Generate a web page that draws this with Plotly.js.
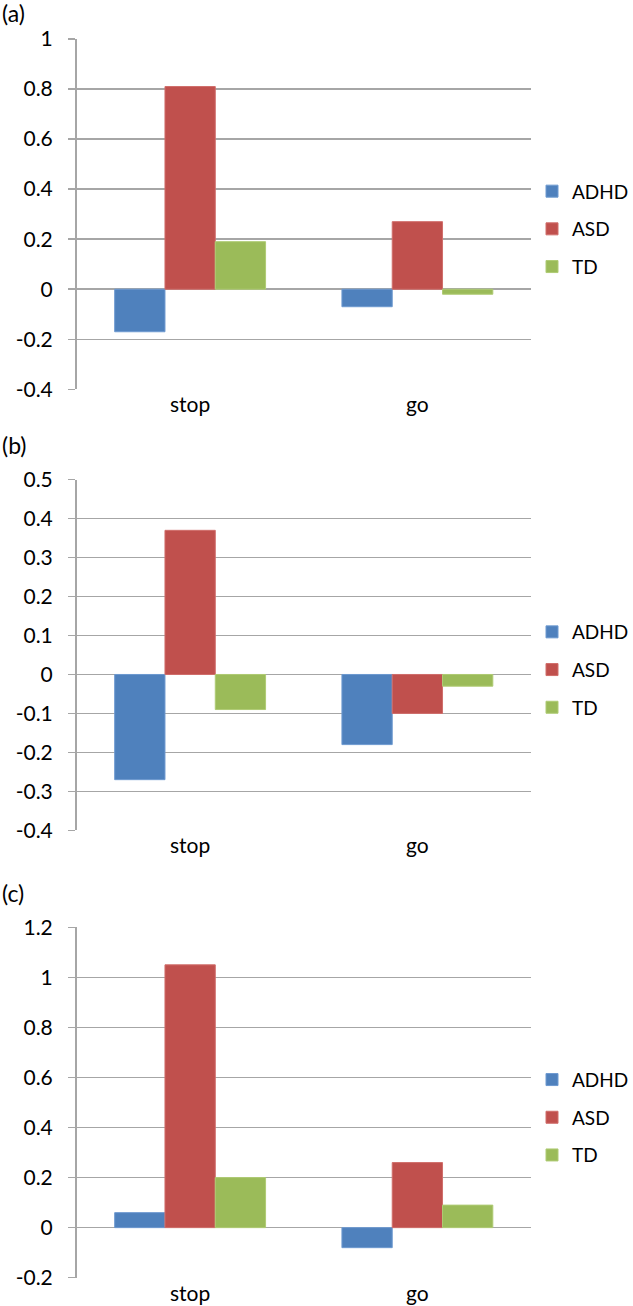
<!DOCTYPE html>
<html>
<head>
<meta charset="utf-8">
<script src="https://cdn.plot.ly/plotly-3.0.1.min.js"></script>
<style>html,body{margin:0;padding:0;background:#fff;overflow:hidden;width:633px;height:1306px;}#chart{width:633px;height:1306px;overflow:hidden;}</style>
</head>
<body>
<div id="chart"></div>
<script>
// ---- data ----
const categories = ["stop", "go"];
const seriesNames = ["ADHD", "ASD", "TD"];
const panelLabels = ["(a)", "(b)", "(c)"];

const a_ADHD = [-0.17, -0.07];
const a_ASD  = [0.81, 0.27];
const a_TD   = [0.19, -0.02];

const b_ADHD = [-0.27, -0.18];
const b_ASD  = [0.37, -0.10];
const b_TD   = [-0.09, -0.03];

const c_ADHD = [0.06, -0.08];
const c_ASD  = [1.05, 0.26];
const c_TD   = [0.20, 0.09];

const a_ticks = [-0.4, -0.2, 0, 0.2, 0.4, 0.6, 0.8, 1];
const b_ticks = [-0.4, -0.3, -0.2, -0.1, 0, 0.1, 0.2, 0.3, 0.4, 0.5];
const c_ticks = [-0.2, 0, 0.2, 0.4, 0.6, 0.8, 1, 1.2];

// ---- styling ----
const W = 633, H = 1306;
const colors = ["#4F81BD", "#C0504D", "#9BBB59"];
const edges  = ["#6E9AD0", "#D06E6B", "#AFCB74"];
const grid = "#A6A6A6";
const FONT = "Lato, 'Open Sans', sans-serif";
const fs = 21;
const py = p => 1 - p / H;
const px = p => p / W;

const panels = [
  {series: [a_ADHD, a_ASD, a_TD], ticks: a_ticks, top: 39, bottom: 389.3, legendMid: 229.3, labelY: 13},
  {series: [b_ADHD, b_ASD, b_TD], ticks: b_ticks, top: 479.7, bottom: 830.3, legendMid: 670, labelY: 445},
  {series: [c_ADHD, c_ASD, c_TD], ticks: c_ticks, top: 927.3, bottom: 1277.7, legendMid: 1117.7, labelY: 893}
];

const xDom = [px(76.5), px(531)];
const boundaries = categories.map((c, i) => i - 0.5).concat([categories.length - 0.5]);

const traces = [];
const layout = {
  width: W, height: H,
  margin: {l: 0, r: 0, t: 0, b: 0, pad: 0, autoexpand: false},
  paper_bgcolor: "#fff", plot_bgcolor: "#fff",
  barmode: "group", bargap: 0.336, bargroupgap: 0,
  font: {family: FONT, size: fs, color: "#000"},
  showlegend: true,
  annotations: [],
  hovermode: false
};

panels.forEach((p, k) => {
  const n = k + 1;
  const sfx = n === 1 ? "" : String(n);
  const xa = "x" + sfx, ya = "y" + sfx;
  const legName = n === 1 ? "legend" : "legend" + n;
  p.series.forEach((vals, s) => {
    traces.push({
      type: "bar", x: categories, y: vals, name: seriesNames[s],
      xaxis: xa, yaxis: ya, legend: legName, legendgroup: "g" + n + "_" + s,
      marker: {color: colors[s], line: {color: edges[s], width: 1}}
    });
  });
  const ymin = p.ticks[0], ymax = p.ticks[p.ticks.length - 1];
  const yDom = [py(p.bottom), py(p.top)];
  layout["xaxis" + sfx] = {
    domain: xDom, anchor: ya, type: "category", categoryarray: categories,
    range: [-0.5, categories.length - 0.5],
    showline: false, showgrid: false, zeroline: false, ticks: "",
    ticklabelstandoff: 1, automargin: false,
    tickfont: {family: FONT, size: fs, color: "#000"}
  };
  layout["yaxis" + sfx] = {
    domain: yDom, anchor: xa, range: [ymin, ymax],
    tickvals: p.ticks, ticktext: p.ticks.map(v => String(v)),
    showline: true, linecolor: grid, linewidth: 1.5,
    showgrid: true, gridcolor: grid, gridwidth: 1.5,
    zeroline: false, automargin: false,
    ticks: "outside", ticklen: 7, tickcolor: grid, tickwidth: 1.5,
    ticklabelstandoff: 11,
    tickfont: {family: FONT, size: fs, color: "#000"}
  };
  // axis at zero with category-boundary tick marks
  const tn = n + 3;
  const zeroPos = yDom[0] + (0 - ymin) / (ymax - ymin) * (yDom[1] - yDom[0]);
  layout["xaxis" + tn] = {
    domain: xDom, overlaying: xa, anchor: "free", position: zeroPos,
    range: [-0.5, categories.length - 0.5], type: "linear",
    tickvals: boundaries, showticklabels: false, automargin: false,
    ticks: "outside", ticklen: 7, tickcolor: grid, tickwidth: 1.5,
    showline: true, linecolor: grid, linewidth: 1.5,
    showgrid: false, zeroline: false
  };
  layout[legName] = {
    x: px(532), xanchor: "left", y: py(p.legendMid), yanchor: "middle",
    itemwidth: 30, tracegroupgap: 10, bgcolor: "rgba(0,0,0,0)",
    font: {family: FONT, size: 19, color: "#000"},
    itemclick: false, itemdoubleclick: false
  };
  layout.annotations.push({
    text: panelLabels[k], xref: "paper", yref: "paper",
    x: 0, xanchor: "left", y: py(p.labelY), yanchor: "middle",
    showarrow: false, font: {family: FONT, size: 23, color: "#000"}
  });
});

Plotly.newPlot("chart", traces, layout, {staticPlot: true});
</script>
</body>
</html>
